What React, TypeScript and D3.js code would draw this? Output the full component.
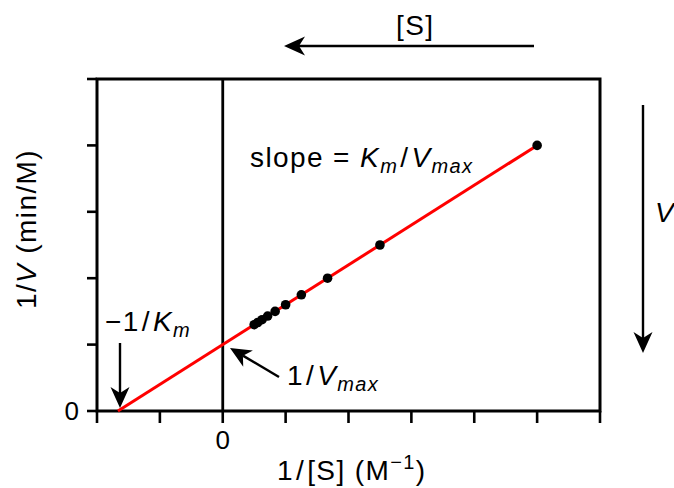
import React from "react";
import * as d3 from "d3";

// Lineweaver–Burk data
const invS = [5, 2.5, 1.667, 1.25, 1.0, 0.833, 0.714, 0.625, 0.556, 0.5];
const invV = [4.0, 2.5, 2.0, 1.75, 1.6, 1.5, 1.43, 1.375, 1.333, 1.3];
const fitX = [-1.667, 5];
const fitY = [0, 4];
const xTicks = [-2, -1, 0, 1, 2, 3, 4, 5, 6];
const yTicks = [0, 1, 2, 3, 4, 5];
const xTickLabels = ["", "", "0", "", "", "", "", "", ""];
const yTickLabels = ["0", "", "", "", "", ""];

const W = 674;
const H = 488;
const L = 97, R = 600, T = 79, B = 411;
const FONT = "'Liberation Sans', Arial, Helvetica, sans-serif";
const FS = 28;
const SUB = 20;
const LS = 1.4;

function Arrow({ x1, y1, x2, y2 }: { x1: number; y1: number; x2: number; y2: number }) {
  const len = 21, hw = 9.5, notch = 6;
  const dx = x2 - x1, dy = y2 - y1;
  const d = Math.hypot(dx, dy);
  const ux = dx / d, uy = dy / d;
  const px = -uy, py = ux;
  const bx = x2 - ux * len, by = y2 - uy * len;
  const nx = x2 - ux * (len - notch), ny = y2 - uy * (len - notch);
  const head = d3.path();
  head.moveTo(x2, y2);
  head.lineTo(bx + px * hw, by + py * hw);
  head.lineTo(nx, ny);
  head.lineTo(bx - px * hw, by - py * hw);
  head.closePath();
  return (
    <g>
      <line x1={x1} y1={y1} x2={nx} y2={ny} stroke="#000" strokeWidth={2.4} />
      <path d={head.toString()} fill="#000" />
    </g>
  );
}

export default function App() {
  const x = d3.scaleLinear().domain([-2, 6]).range([L, R]);
  const y = d3.scaleLinear().domain([0, 5]).range([B, T]);
  const line = d3
    .line<number>()
    .x((_, i) => x(fitX[i]))
    .y((_, i) => y(fitY[i]));

  return (
    <svg
      width={W}
      height={H}
      style={{ position: "absolute", left: 0, top: 0, background: "#fff" }}
      fontFamily={FONT}
      fontSize={FS}
      letterSpacing={LS}
    >
      <rect x={0} y={0} width={W} height={H} fill="#fff" />
      {/* x ticks */}
      {xTicks.map((t, i) => (
        <g key={"xt" + i}>
          <line x1={x(t)} x2={x(t)} y1={B} y2={B + 12} stroke="#000" strokeWidth={2.6} />
          {xTickLabels[i] && (
            <text x={x(t)} y={449} textAnchor="middle" letterSpacing={0} fontSize={26}>
              {xTickLabels[i]}
            </text>
          )}
        </g>
      ))}
      {/* y ticks */}
      {yTicks.map((t, i) => (
        <g key={"yt" + i}>
          <line x1={L - 10} x2={L} y1={y(t)} y2={y(t)} stroke="#000" strokeWidth={2.6} />
          {yTickLabels[i] && (
            <text x={79} y={y(t) + 9} textAnchor="end" letterSpacing={0} fontSize={26}>
              {yTickLabels[i]}
            </text>
          )}
        </g>
      ))}
      {/* frame */}
      <rect x={L} y={T} width={R - L} height={B - T} fill="none" stroke="#000" strokeWidth={3} />
      {/* vertical axis at x = 0 */}
      <line x1={x(0)} x2={x(0)} y1={T} y2={B} stroke="#000" strokeWidth={2.8} />
      {/* fit line */}
      <path d={line(fitX) || ""} fill="none" stroke="#ff0000" strokeWidth={3} />
      {/* points */}
      {invS.map((s, i) => (
        <circle key={"p" + i} cx={x(s)} cy={y(invV[i])} r={4.8} fill="#000" />
      ))}

      {/* slope annotation */}
      <text x={250} y={167}>
        <tspan>slope = </tspan>
        <tspan fontStyle="italic">K</tspan>
        <tspan fontStyle="italic" fontSize={SUB} dy={6}>m</tspan>
        <tspan dy={-6} dx={2}>/</tspan>
        <tspan fontStyle="italic" dx={2}>V</tspan>
        <tspan fontStyle="italic" fontSize={SUB} dy={6}>max</tspan>
      </text>

      {/* [S] arrow */}
      <text x={396} y={35}>[S]</text>
      <Arrow x1={534} y1={46} x2={284} y2={46} />

      {/* V arrow */}
      <text x={655} y={222} fontStyle="italic">V</text>
      <Arrow x1={643} y1={105} x2={643} y2={353} />

      {/* -1/Km */}
      <text x={105} y={331}>
        <tspan>−1</tspan>
        <tspan dx={2}>/</tspan>
        <tspan fontStyle="italic" dx={2}>K</tspan>
        <tspan fontStyle="italic" fontSize={SUB} dy={6}>m</tspan>
      </text>
      <Arrow x1={120} y1={343} x2={120} y2={408} />

      {/* 1/Vmax */}
      <text x={287} y={385}>
        <tspan>1</tspan>
        <tspan dx={2}>/</tspan>
        <tspan fontStyle="italic" dx={2}>V</tspan>
        <tspan fontStyle="italic" fontSize={SUB} dy={6}>max</tspan>
      </text>
      <Arrow x1={279} y1={377} x2={230} y2={348} />

      {/* axis labels */}
      <text x={277} y={480}>
        <tspan>1</tspan>
        <tspan dx={2}>/</tspan>
        <tspan dx={2}>[S] (M</tspan>
        <tspan fontSize={SUB} dy={-11}>−1</tspan>
        <tspan dy={11}>)</tspan>
      </text>
      <text transform={`translate(36, 229) rotate(-90)`} textAnchor="middle">
        <tspan>1</tspan>
        <tspan>/</tspan>
        <tspan fontStyle="italic">V</tspan>
        <tspan> (min</tspan>
        <tspan>/</tspan>
        <tspan>M)</tspan>
      </text>
    </svg>
  );
}
